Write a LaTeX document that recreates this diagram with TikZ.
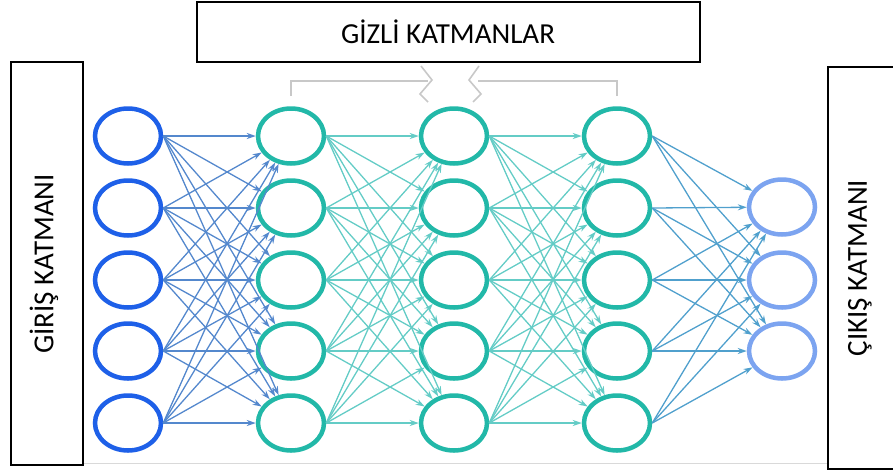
\documentclass[tikz,border=0pt]{standalone}
\usepackage{fontspec}
\setmainfont{Carlito}
\usetikzlibrary{shapes.geometric,arrows.meta}

\definecolor{inblue}{RGB}{30,96,232}
\definecolor{hidteal}{RGB}{34,184,168}
\definecolor{outblue}{RGB}{124,164,240}
\definecolor{wirein}{RGB}{84,136,205}
\definecolor{wirehid}{RGB}{100,204,198}
\definecolor{wireout}{RGB}{80,160,205}
\definecolor{bracketgray}{RGB}{200,200,200}

\begin{document}
\begin{tikzpicture}[x = 1pt, y = -1pt,
        font = \fontsize{29}{34}\selectfont,
        neuron/.style = {ellipse, draw, line width = 4.5pt, fill = white,
            minimum width = 66pt, minimum height = 55pt, inner sep = 0pt},
        frame/.style = {draw, line width = 1.4pt},
        wire/.style = {-{Stealth[length = 9pt, width = 6pt]}, line width = 1.3pt},
        bracket/.style = {draw = bracketgray, line width = 1.6pt}]
    \useasboundingbox (0, 0) rectangle (893, 472);

    % layers
    \foreach \i/\y in {1/136, 2/208, 3/280, 4/351, 5/423} {
        \node [neuron, draw = inblue] (I\i) at (128, \y) {};
        \node [neuron, draw = hidteal] (H\i) at (291, \y) {};
        \node [neuron, draw = hidteal] (J\i) at (454, \y) {};
        \node [neuron, draw = hidteal] (K\i) at (617, \y) {};
    }
    \foreach \i/\y in {1/207, 2/280, 3/351}
        \node [neuron, draw = outblue] (O\i) at (782, \y) {};

    % connections
    \foreach \a in {1, ..., 5} {
        \foreach \b in {1, ..., 5} {
            \draw [wire, wirein] (I\a.east) -- (H\b);
            \draw [wire, wirehid] (H\a.east) -- (J\b);
            \draw [wire, wirehid] (J\a.east) -- (K\b);
        }
        \foreach \b in {1, 2, 3}
            \draw [wire, wireout] (K\a.east) -- (O\b);
    }

    % bracket over the hidden layers
    \draw [bracket] (291, 96) -- (291, 81) -- (428, 81);
    \draw [bracket] (421, 66) -- (432, 80) -- (420, 94) -- (428, 102);
    \draw [bracket] (617, 96) -- (617, 81) -- (478, 81);
    \draw [bracket] (479, 66) -- (469, 80) -- (481, 94) -- (473, 102);
    \draw [draw = black!15, line width = 0.8pt] (83, 463) -- (828, 463);

    % labels
    \draw [frame] (197, 2) rectangle (700, 62);
    \node (hidden) at (448, 32) {GİZLİ KATMANLAR};
    \draw [frame] (11, 62) rectangle (83, 465);
    \node [rotate = 90] (input) at (44, 264) {GİRİŞ KATMANI};
    \draw [frame] (828, 67) rectangle (900, 469);
    \node [rotate = 90] (output) at (860, 268) {ÇIKIŞ KATMANI};
\end{tikzpicture}
\end{document}
